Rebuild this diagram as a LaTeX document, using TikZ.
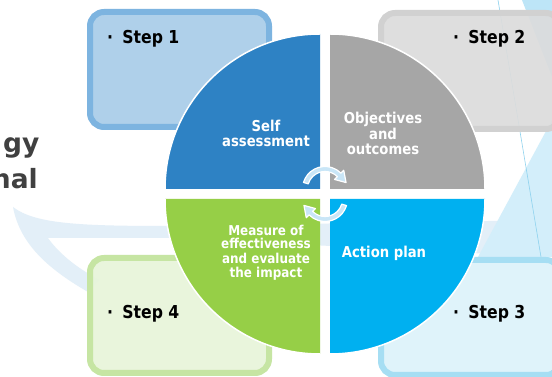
\documentclass[tikz,border=0pt]{standalone}
\usepackage{fontspec}
\newfontfamily\diagfont{DejaVu Sans}[FakeStretch=0.88]
\newfontfamily\titlefont{DejaVu Sans}

\definecolor{qblue}{HTML}{2E82C4}
\definecolor{qgray}{HTML}{A6A6A6}
\definecolor{qcyan}{HTML}{00B0F0}
\definecolor{qgreen}{HTML}{96CF47}
\definecolor{sonefill}{HTML}{A9CDE9}
\definecolor{soneedge}{HTML}{7DB4E0}
\definecolor{stwofill}{HTML}{DCDCDC}
\definecolor{stwoedge}{HTML}{D1D1D1}
\definecolor{sthreefill}{HTML}{DDF2FA}
\definecolor{sthreeedge}{HTML}{A6DEF3}
\definecolor{sfourfill}{HTML}{E8F5DA}
\definecolor{sfouredge}{HTML}{C6E5A3}
\definecolor{arrowblue}{HTML}{C9E6F7}
\definecolor{titlegray}{HTML}{404040}
\definecolor{swoosh}{HTML}{E3EFF8}
\definecolor{facetlight}{HTML}{D3EEFA}
\definecolor{facetdark}{HTML}{BDE5F7}
\definecolor{facetline}{HTML}{8ED2EE}

\begin{document}
\begin{tikzpicture}[x=1pt,y=1pt,
  stepbox/.style={line width=6pt, rounded corners=14pt, fill opacity=0.92},
  quadrim/.style={draw=white, line width=1.5pt},
  qlabel/.style={text=white, font=\diagfont\bfseries\fontsize{15}{18}\selectfont,
    anchor=base, inner sep=0pt},
  qsmall/.style={qlabel, font=\diagfont\bfseries\fontsize{13.6}{16}\selectfont},
  steplabel/.style={text=black, font=\diagfont\bfseries\fontsize{17.8}{21}\selectfont,
    anchor=base west, inner sep=0pt},
  titlefrag/.style={text=titlegray, font=\titlefont\bfseries\fontsize{26.5}{30}\selectfont,
    anchor=base east, inner sep=0pt},
  cyclearrow/.style={fill=arrowblue, draw=white, line width=1.2pt, line join=round}
]
\useasboundingbox (0,0) rectangle (552,377);
\clip (0,0) rectangle (552,377);
\fill[white] (0,0) rectangle (552,377);

% faint background artwork
\fill[swoosh] (13,170) .. controls (35,153) and (80,151) .. (170,151) -- (552,157)
  -- (552,120) -- (170,139) -- (48,139) .. controls (60,122) and (80,107) .. (100,97)
  -- (88,85) .. controls (50,107) and (20,132) .. (13,170) -- cycle;
\fill[facetlight] (552,257) -- (552,120) -- (478,120) -- cycle;
\fill[facetdark] (522,377) -- (552,377) -- (552,300) -- cycle;
\draw[facetline, line width=0.6pt] (498,377) -- (541,120);

% step boxes
\draw[stepbox, draw=soneedge, fill=sonefill] (90,250) rectangle (269,365);
\draw[stepbox, draw=stwoedge, fill=stwofill] (381,248) rectangle (560,364);
\draw[stepbox, draw=sthreeedge, fill=sthreefill] (381,2) rectangle (560,117);
\draw[stepbox, draw=sfouredge, fill=sfourfill] (90,4) rectangle (269,119);

% the four quadrants
\fill[qblue] (320,188) -- (165,188) arc[start angle=180, end angle=90, radius=155pt] -- cycle;
\draw[quadrim] (165,188) arc[start angle=180, end angle=90, radius=155pt];
\fill[qgray] (330,188) -- (330,343) arc[start angle=90, end angle=0, radius=155pt] -- cycle;
\draw[quadrim] (330,343) arc[start angle=90, end angle=0, radius=155pt];
\fill[qcyan] (330,178) -- (485,178) arc[start angle=0, end angle=-90, radius=155pt] -- cycle;
\draw[quadrim] (485,178) arc[start angle=0, end angle=-90, radius=155pt];
\fill[qgreen] (320,178) -- (320,23) arc[start angle=270, end angle=180, radius=155pt] -- cycle;
\draw[quadrim] (320,23) arc[start angle=270, end angle=180, radius=155pt];

% quadrant texts
\node[qlabel] (selfA) at (266,245.3) {Self};
\node[qlabel] (selfB) at (266,230.3) {assessment};
\node[qlabel] (objA) at (383,253) {Objectives};
\node[qlabel] (objB) at (383,237.7) {and};
\node[qlabel] (objC) at (383,222) {outcomes};
\node[qsmall] (measA) at (266,141.3) {Measure of};
\node[qsmall] (measB) at (266,128) {effectiveness};
\node[qsmall] (measC) at (266,113) {and evaluate};
\node[qsmall] (measD) at (266,99) {the impact};
\node[qlabel] (action) at (384,119) {Action plan};

% the two circular arrows in the middle
\begin{scope}[shift={(325,188)}]
  \filldraw[cyclearrow] (163:22.5) arc[start angle=163, end angle=45, radius=22.5pt]
    -- (45:26.5) -- (17:22) -- (45:13.5) -- (45:17.5)
    arc[start angle=45, end angle=163, radius=17.5pt] -- cycle;
\end{scope}
\begin{scope}[shift={(325,178)}, rotate=180]
  \filldraw[cyclearrow] (163:22.5) arc[start angle=163, end angle=45, radius=22.5pt]
    -- (45:26.5) -- (17:22) -- (45:13.5) -- (45:17.5)
    arc[start angle=45, end angle=163, radius=17.5pt] -- cycle;
\end{scope}

% step captions
\node[steplabel] (capA) at (107,333) {·\hspace{9.3pt}Step 1};
\node[steplabel] (capB) at (453,333) {·\hspace{9.3pt}Step 2};
\node[steplabel] (capC) at (453,58.3) {·\hspace{9.3pt}Step 3};
\node[steplabel] (capD) at (107,58.3) {·\hspace{9.3pt}Step 4};

% title running off the left edge
\node[titlefrag] (titleA) at (39.5,224.7) {gy};
\node[titlefrag] (titleB) at (38,188.7) {nal};
\end{tikzpicture}
\end{document}
